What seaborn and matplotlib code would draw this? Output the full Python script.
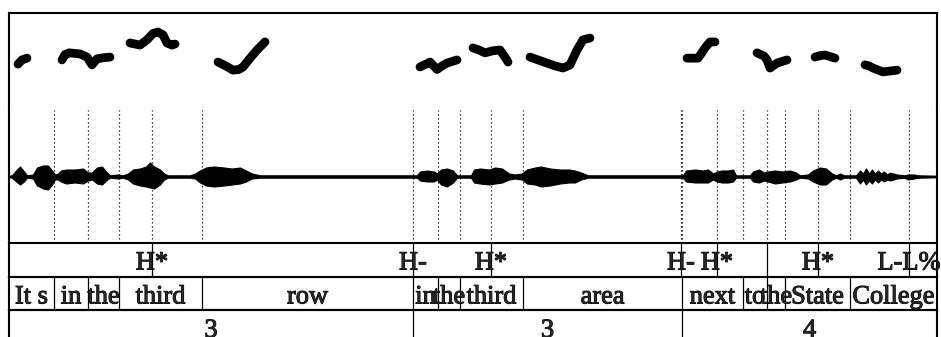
import numpy as np
import pandas as pd
import matplotlib
matplotlib.use("Agg")
import matplotlib.pyplot as plt
import matplotlib.patheffects as pe
import seaborn as sns

sns.set_style("white")
plt.rcParams["font.family"] = ["Liberation Serif", "DejaVu Serif"]

DURATION = 4.64  # seconds

# ---- F0 track: one list per voiced stretch (time in s, F0 in Hz) ----
pitch_times = [
    [0.045, 0.065, 0.09],
    [0.265, 0.28, 0.3, 0.355, 0.39, 0.415, 0.44, 0.47, 0.505],
    [0.605, 0.655, 0.69, 0.72, 0.745, 0.77, 0.79, 0.815, 0.83],
    [1.045, 1.09, 1.12, 1.15, 1.17, 1.21, 1.24, 1.28],
    [2.055, 2.085, 2.105, 2.14, 2.165, 2.19, 2.24],
    [2.32, 2.35, 2.38, 2.42, 2.455, 2.48, 2.495],
    [2.605, 2.65, 2.69, 2.73, 2.77, 2.805, 2.84, 2.87, 2.905],
    [3.39, 3.445, 3.465, 3.48, 3.505, 3.53],
    [3.74, 3.775, 3.79, 3.805, 3.84, 3.89],
    [4.03, 4.055, 4.08, 4.13],
    [4.28, 4.3, 4.32, 4.37, 4.44],
]
pitch_hz = [
    [205, 217, 222],
    [217, 232, 237, 234, 225, 203, 220, 223, 225],
    [265, 259, 274, 292, 296, 288, 265, 259, 262],
    [211, 198, 188, 190, 197, 225, 245, 268],
    [197, 205, 211, 190, 200, 208, 217],
    [251, 245, 237, 243, 245, 225, 211],
    [225, 216, 208, 200, 194, 203, 245, 274, 279],
    [222, 222, 238, 251, 268, 268],
    [237, 228, 217, 194, 208, 217],
    [225, 229, 231, 222],
    [203, 200, 194, 183, 188],
]

# ---- Waveform amplitude envelope (time in s, upper / lower excursion) ----
env_t = [0.0, 0.015, 0.03, 0.055, 0.075, 0.09, 0.12, 0.14, 0.17, 0.195, 0.215,
         0.23, 0.245, 0.26, 0.285, 0.33, 0.37, 0.395, 0.415, 0.44, 0.465, 0.485,
         0.505, 0.545, 0.57, 0.595, 0.62, 0.655, 0.685, 0.705, 0.725, 0.755,
         0.775, 0.795, 0.905, 0.93, 0.955, 0.985, 1.025, 1.075, 1.115, 1.155,
         1.185, 1.215, 1.255, 1.555, 2.04, 2.055, 2.09, 2.125, 2.14, 2.16, 2.19,
         2.22, 2.24, 2.31, 2.325, 2.355, 2.4, 2.43, 2.465, 2.5, 2.53, 2.565,
         2.59, 2.63, 2.66, 2.705, 2.755, 2.8, 2.83, 2.86, 2.895, 3.37, 3.385,
         3.43, 3.47, 3.495, 3.52, 3.54, 3.565, 3.595, 3.62, 3.635, 3.705, 3.72,
         3.75, 3.775, 3.795, 3.83, 3.865, 3.905, 3.935, 3.955, 3.995, 4.02,
         4.055, 4.085, 4.115, 4.135, 4.155, 4.175, 4.235, 4.255, 4.27, 4.285,
         4.3, 4.315, 4.33, 4.345, 4.36, 4.375, 4.39, 4.405, 4.44, 4.475, 4.495,
         4.525, 4.545, 4.64]
env_hi = [0.008, 0.012, 0.05, 0.10, 0.05, 0.012, 0.02, 0.09, 0.11, 0.11, 0.06,
          0.02, 0.03, 0.06, 0.07, 0.07, 0.08, 0.04, 0.04, 0.09, 0.10, 0.05,
          0.012, 0.02, 0.012, 0.03, 0.07, 0.08, 0.10, 0.14, 0.10, 0.07,
          0.03, 0.012, 0.012, 0.03, 0.06, 0.09, 0.10, 0.09, 0.08, 0.09,
          0.06, 0.03, 0.012, 0.012, 0.012, 0.05, 0.06, 0.05, 0.03, 0.07, 0.08,
          0.06, 0.012, 0.012, 0.07, 0.08, 0.07, 0.09, 0.08, 0.03, 0.02, 0.03,
          0.07, 0.09, 0.10, 0.08, 0.07, 0.07, 0.06, 0.04, 0.012, 0.012, 0.06,
          0.07, 0.06, 0.07, 0.03, 0.05, 0.06, 0.06, 0.07, 0.012, 0.012, 0.05,
          0.07, 0.04, 0.05, 0.06, 0.05, 0.06, 0.04, 0.012, 0.02, 0.06,
          0.09, 0.08, 0.03, 0.012, 0.03, 0.012, 0.012, 0.06, 0.03, 0.08,
          0.03, 0.07, 0.03, 0.06, 0.03, 0.05, 0.02, 0.04, 0.02, 0.012, 0.02,
          0.02, 0.012, 0.008]
env_lo = [0.008, 0.012, 0.04, 0.08, 0.05, 0.012, 0.02, 0.09, 0.12, 0.13, 0.08,
          0.03, 0.03, 0.05, 0.07, 0.06, 0.07, 0.04, 0.03, 0.07, 0.08, 0.04,
          0.012, 0.02, 0.012, 0.03, 0.07, 0.09, 0.10, 0.11, 0.12, 0.08,
          0.03, 0.012, 0.012, 0.02, 0.06, 0.09, 0.10, 0.09, 0.08, 0.07,
          0.05, 0.02, 0.012, 0.012, 0.012, 0.04, 0.05, 0.05, 0.03, 0.08, 0.10,
          0.06, 0.012, 0.012, 0.06, 0.07, 0.08, 0.07, 0.06, 0.03, 0.02, 0.03,
          0.07, 0.08, 0.10, 0.09, 0.07, 0.06, 0.06, 0.03, 0.012, 0.012, 0.05,
          0.06, 0.06, 0.06, 0.03, 0.05, 0.06, 0.06, 0.05, 0.012, 0.012, 0.05,
          0.06, 0.04, 0.05, 0.07, 0.06, 0.05, 0.03, 0.012, 0.02, 0.05,
          0.08, 0.08, 0.03, 0.012, 0.03, 0.012, 0.012, 0.07, 0.03, 0.08,
          0.04, 0.07, 0.03, 0.06, 0.03, 0.05, 0.03, 0.04, 0.02, 0.012, 0.03,
          0.02, 0.012, 0.008]

# ---- Annotation tiers ----
words = ["It s", "in", "the", "third", "row", "in", "the", "third", "area",
         "next", "to", "the", "State", "College"]
word_bounds = [0.0, 0.225, 0.395, 0.55, 0.965, 2.02, 2.145, 2.255, 2.57,
               3.365, 3.67, 3.79, 3.88, 4.205, 4.64]
tone_times = [0.715, 2.02, 2.41, 3.36, 3.54, 3.79, 4.045, 4.5]
tone_labels = ["H*", "H-", "H*", "H-", "H*", "", "H*", "L-L%"]
break_labels = ["3", "3", "4"]
break_bounds = [0.0, 2.02, 3.365, 4.64]

# ---- Figure layout (figure fractions) ----
W, H = 941, 337
fig = plt.figure(figsize=(W / 100, H / 100), dpi=100)
x0, x1 = 9, 937


def add_panel(top_px, bottom_px):
    return fig.add_axes([x0 / W, (H - bottom_px) / H, (x1 - x0) / W,
                         (bottom_px - top_px) / H])


ax_pitch = add_panel(13, 110)
ax_wave = add_panel(110, 243)
ax_tone = add_panel(243, 277)
ax_word = add_panel(277, 310)
ax_brk = add_panel(310, 345)

FRAME_LW = 1.5
for ax in (ax_pitch, ax_wave, ax_tone, ax_word, ax_brk):
    ax.set_xlim(0, DURATION)
    ax.set_xticks([])
    ax.set_yticks([])
    ax.set_facecolor("none")
    for s in ax.spines.values():
        s.set_linewidth(FRAME_LW)
        s.set_color("black")

ax_pitch.spines["bottom"].set_visible(False)
ax_wave.spines["top"].set_visible(False)
ax_wave.spines["bottom"].set_visible(False)

# ---- Pitch contour ----
rows = []
for i, (ts, fs) in enumerate(zip(pitch_times, pitch_hz)):
    for t, f in zip(ts, fs):
        rows.append({"time": t, "f0": f, "seg": i})
pitch_df = pd.DataFrame(rows)
sns.lineplot(data=pitch_df, x="time", y="f0", units="seg", estimator=None,
             sort=False, color="black", linewidth=6.3, solid_capstyle="round",
             solid_joinstyle="round", ax=ax_pitch, legend=False)
ax_pitch.set_ylim(75, 350)
ax_pitch.set_xlabel("")
ax_pitch.set_ylabel("")

# ---- Waveform ----
et = np.array(env_t)
ax_wave.fill_between(et, np.array(env_hi), -np.array(env_lo),
                     color="black", linewidth=0.8)
ax_wave.set_ylim(-0.665, 0.665)

# dotted guides at word boundaries and tone points
guides = sorted(set(word_bounds[1:-1]) | set(tone_times))
for g in guides:
    ax_wave.axvline(g, color="black", linewidth=0.9, linestyle=(0, (1, 2.2)))

# ---- Tier labels: slightly heavier strokes for the serif text ----
FS = 19
heavy = [pe.withStroke(linewidth=0.7, foreground="black")]

for t, lab in zip(tone_times, tone_labels):
    ax_tone.axvline(t, color="black", linewidth=0.9)
    if lab:
        ax_tone.text(t, 0.22, lab, ha="center", va="baseline", fontsize=FS,
                     transform=ax_tone.get_xaxis_transform(), clip_on=False,
                     path_effects=heavy)

for b in word_bounds[1:-1]:
    ax_word.axvline(b, color="black", linewidth=0.9)
for w, a, b in zip(words, word_bounds[:-1], word_bounds[1:]):
    ax_word.text((a + b) / 2, 0.2, w, ha="center", va="baseline", fontsize=FS,
                 transform=ax_word.get_xaxis_transform(), clip_on=False,
                 path_effects=heavy)

for b in break_bounds[1:-1]:
    ax_brk.axvline(b, color="black", linewidth=0.9)
for lab, a, b in zip(break_labels, break_bounds[:-1], break_bounds[1:]):
    ax_brk.text((a + b) / 2, 0.229, lab, ha="center", va="baseline",
                fontsize=FS, transform=ax_brk.get_xaxis_transform(),
                path_effects=heavy)

fig.savefig("out.png", dpi=100)
